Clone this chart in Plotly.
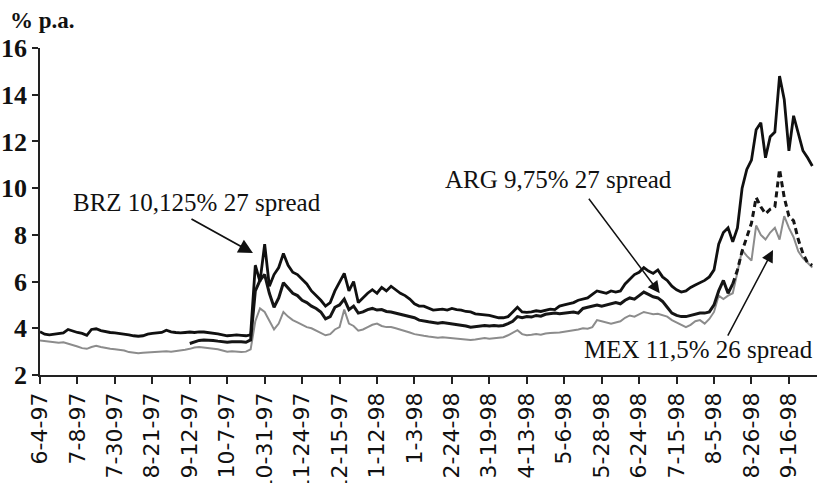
import plotly.graph_objects as go

# ---------------- data ----------------
tick_labels = ["6-4-97", "7-8-97", "7-30-97", "8-21-97", "9-12-97", "10-7-97",
               "10-31-97", "11-24-97", "12-15-97", "1-12-98", "1-3-98", "2-24-98",
               "3-19-98", "4-13-98", "5-6-98", "5-28-98", "6-24-98", "7-15-98",
               "8-5-98", "8-26-98", "9-16-98"]
obs_per_tick = 8

brz = [3.85, 3.75, 3.72, 3.75, 3.78, 3.8, 3.95, 3.88, 3.82, 3.78,
       3.7, 3.95, 3.98, 3.9, 3.85, 3.82, 3.8, 3.78, 3.75, 3.72,
       3.68, 3.66, 3.68, 3.75, 3.78, 3.8, 3.82, 3.92, 3.85, 3.82,
       3.8, 3.82, 3.84, 3.82, 3.85, 3.84, 3.82, 3.78, 3.76, 3.72,
       3.68, 3.7, 3.72, 3.7, 3.68, 3.72, 6.7, 6.0, 7.6, 5.8,
       6.3, 6.6, 7.2, 6.7, 6.4, 6.3, 6.1, 5.9, 5.6, 5.4,
       5.2, 4.95, 5.1, 5.6, 6.0, 6.35, 5.6, 6.0, 5.1, 5.3,
       5.5, 5.65, 5.5, 5.75, 5.6, 5.8, 5.65, 5.5, 5.4, 5.25,
       5.05, 4.95, 4.95, 4.85, 4.78, 4.8, 4.82, 4.78, 4.85, 4.8,
       4.78, 4.72, 4.7, 4.62, 4.6, 4.57, 4.55, 4.5, 4.45, 4.45,
       4.5, 4.7, 4.9, 4.7, 4.68, 4.7, 4.75, 4.72, 4.78, 4.82,
       4.8, 4.95, 5.0, 5.05, 5.1, 5.2, 5.25, 5.3, 5.45, 5.6,
       5.55, 5.5, 5.6, 5.55, 5.6, 5.9, 6.1, 6.3, 6.4, 6.6,
       6.45, 6.35, 6.5, 6.2, 6.05, 5.8, 5.65, 5.55, 5.6, 5.75,
       5.85, 5.95, 6.05, 6.2, 6.5, 7.6, 8.1, 8.3, 7.7, 8.3,
       10.0, 10.8, 11.2, 12.5, 12.8, 11.3, 12.2, 12.4, 14.8, 13.8,
       11.6, 13.1, 12.3, 11.6, 11.3, 10.95]

arg_start = 32
arg = [3.35, 3.42, 3.48, 3.5, 3.5, 3.48, 3.45, 3.42,
       3.4, 3.42, 3.43, 3.42, 3.4, 3.5, 5.6, 6.05, 6.3, 5.5,
       4.9, 5.3, 5.95, 5.7, 5.5, 5.4, 5.2, 5.1, 4.95, 4.85,
       4.7, 4.4, 4.5, 4.9, 5.0, 5.25, 4.8, 4.95, 4.65, 4.7,
       4.8, 4.85, 4.78, 4.8, 4.72, 4.7, 4.65, 4.6, 4.55, 4.5,
       4.45, 4.35, 4.3, 4.28, 4.25, 4.22, 4.25, 4.22, 4.2, 4.18,
       4.15, 4.1, 4.05, 4.08, 4.1, 4.12, 4.1, 4.12, 4.1, 4.12,
       4.2, 4.3, 4.5, 4.45, 4.5, 4.48, 4.55, 4.52, 4.6, 4.62,
       4.65, 4.62, 4.65, 4.68, 4.7, 4.65, 4.85, 4.9, 4.95, 5.0,
       4.95, 5.0, 5.05, 5.1, 5.05, 5.2, 5.3, 5.25, 5.4, 5.55,
       5.45, 5.35, 5.3, 5.15, 4.9, 4.65, 4.55, 4.5, 4.5, 4.55,
       4.6, 4.65, 4.65, 4.7, 5.0, 5.6, 6.05, 5.5, 5.9, 6.5,
       7.3, 7.9, 8.5, 9.6, 9.2, 8.9, 9.1, 9.2, 10.8, 9.6,
       8.8, 8.6, 7.8, 7.2, 6.8, 6.7]
arg_dash_from = 148

mex = [3.48, 3.45, 3.45, 3.42, 3.38, 3.4, 3.35, 3.3, 3.22, 3.15,
       3.12, 3.2, 3.25, 3.2, 3.15, 3.12, 3.1, 3.08, 3.05, 2.98,
       2.95, 2.93, 2.95, 2.97, 2.98, 3.0, 3.0, 3.02, 3.0, 3.02,
       3.05, 3.08, 3.12, 3.18, 3.2, 3.18, 3.15, 3.12, 3.1, 3.05,
       3.0, 3.02, 3.0, 2.98, 3.0, 3.1, 4.3, 4.85, 4.7, 4.3,
       3.95, 4.2, 4.7, 4.5, 4.35, 4.25, 4.15, 4.05, 4.0, 3.9,
       3.8, 3.7, 3.75, 3.95, 4.05, 4.8, 4.2, 4.1, 3.9, 3.95,
       4.05, 4.15, 4.2, 4.1, 4.05, 4.05, 4.0, 3.95, 3.9, 3.82,
       3.75, 3.7, 3.68, 3.65, 3.62, 3.6, 3.62, 3.6, 3.58, 3.55,
       3.55, 3.52, 3.5, 3.52, 3.55, 3.58, 3.55, 3.58, 3.6, 3.62,
       3.7, 3.8, 3.92, 3.75, 3.7, 3.72, 3.75, 3.72, 3.78, 3.8,
       3.8, 3.82, 3.85, 3.88, 3.9, 3.95, 4.0, 3.98, 4.05, 4.35,
       4.3, 4.25, 4.2, 4.25, 4.3, 4.45, 4.55, 4.5, 4.6, 4.7,
       4.65, 4.6, 4.62, 4.55, 4.5, 4.35, 4.25, 4.15, 4.05, 4.15,
       4.3, 4.35, 4.2, 4.4, 4.7, 5.4, 5.25, 5.4, 5.5, 6.4,
       7.35, 7.1, 6.9, 8.4, 8.0, 7.8, 8.1, 8.3, 7.8, 8.8,
       8.3, 7.9, 7.3, 7.0, 6.8, 6.6]

y_ticks = [2, 4, 6, 8, 10, 12, 14, 16]

# ---------------- figure ----------------
idx = list(range(len(brz)))
arg_idx = list(range(arg_start, arg_start + len(arg)))
cut = arg_dash_from - arg_start

fig = go.Figure()
fig.add_trace(go.Scatter(x=idx, y=mex, mode="lines", name="MEX",
                         line=dict(color="#8c8c8c", width=2)))
fig.add_trace(go.Scatter(x=arg_idx[:cut + 1], y=arg[:cut + 1], mode="lines", name="ARG",
                         line=dict(color="#151515", width=3)))
fig.add_trace(go.Scatter(x=arg_idx[cut:], y=arg[cut:], mode="lines", name="ARG",
                         line=dict(color="#151515", width=3, dash="6px,4px")))
fig.add_trace(go.Scatter(x=idx, y=brz, mode="lines", name="BRZ",
                         line=dict(color="#101010", width=2.8)))

serif = "Liberation Serif, Times New Roman, serif"
ann_font = dict(family=serif, size=25, color="#111")

annotations = [
    dict(text="<b>% p.a.</b>", xref="paper", yref="paper", x=-0.041, y=1.083,
         xanchor="left", yanchor="middle", showarrow=False,
         font=dict(family=serif, size=23, color="#111")),
    dict(text="BRZ 10,125% 27 spread", xref="x", yref="y", x=33.5, y=9.4,
         showarrow=False, font=ann_font),
    dict(text="ARG 9,75% 27 spread", xref="x", yref="y", x=110.8, y=10.35,
         showarrow=False, font=ann_font),
    dict(text="MEX 11,5% 26 spread", xref="x", yref="y", x=140.6, y=3.1,
         showarrow=False, font=ann_font),
    dict(text="", xref="x", yref="y", x=45.5, y=7.22, ax=-63, ay=-35,
         showarrow=True, arrowhead=2, arrowsize=1.6, arrowwidth=1.8, arrowcolor="#111"),
    dict(text="", xref="x", yref="y", x=132.4, y=5.5, ax=-72, ay=-96,
         showarrow=True, arrowhead=2, arrowsize=1.6, arrowwidth=1.5, arrowcolor="#111"),
    dict(text="", xref="x", yref="y", x=156.6, y=7.35, ax=-46, ay=87,
         showarrow=True, arrowhead=2, arrowsize=1.6, arrowwidth=1.5, arrowcolor="#111"),
]

fig.update_layout(
    width=817, height=483,
    margin=dict(l=40, r=0, t=48, b=108, autoexpand=False),
    paper_bgcolor="white", plot_bgcolor="white",
    showlegend=False,
    annotations=annotations,
)
fig.update_xaxes(
    range=[0, 166], tickmode="array",
    tickvals=[i * obs_per_tick for i in range(len(tick_labels))],
    ticktext=tick_labels, tickangle=-90,
    ticks="outside", ticklen=7, tickwidth=1.5, tickcolor="#222",
    showline=True, linecolor="#222", linewidth=1.5,
    showgrid=False, zeroline=False, automargin=False,
    tickfont=dict(family="DejaVu Sans", size=22, color="#111"),
)
fig.update_yaxes(
    range=[2, 16], tickmode="array", tickvals=y_ticks,
    ticks="outside", ticklen=6, tickwidth=1.5, tickcolor="#222",
    showline=True, linecolor="#222", linewidth=1.5,
    showgrid=False, zeroline=False, automargin=False,
    tickfont=dict(family=serif, size=26, color="#111", weight="bold"),
)

# remove the default page margin so the figure fills the window exactly
fig.write_html("out.html",
               config={"displayModeBar": False},
               post_script="document.body.style.margin='0';document.body.style.overflow='hidden';")
